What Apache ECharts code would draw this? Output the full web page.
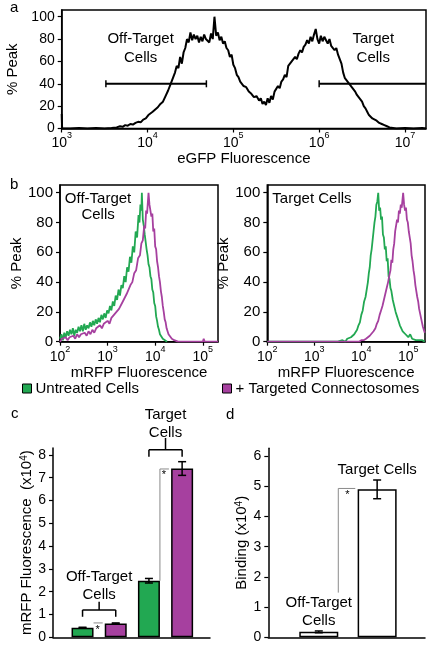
<!DOCTYPE html>
<html><head><meta charset="utf-8">
<script src="https://cdn.jsdelivr.net/npm/echarts@6/dist/echarts.min.js"></script>
<style>html,body{margin:0;padding:0;background:#fff}#c{width:435px;height:650px}</style>
</head><body><div id="c"></div>
<script>
const FONT = '"Liberation Sans", Arial, Helvetica, sans-serif';
const GREEN = '#22a852', MAGENTA = '#a6409f';

// ---- Panel a: eGFP histogram, [log10(eGFP), % Peak]
const egfpHist = [[3.00,13],[3.005,0],[3.1,0],[3.2,0.5],[3.3,0],[3.4,0.5],[3.5,0],[3.58,0.5],[3.64,1],[3.68,2],[3.71,1.5],[3.74,3],[3.77,2.5],[3.80,4],[3.83,3.5],[3.86,5],[3.89,6],[3.92,5.5],[3.95,8],[3.98,9],[4.01,12],[4.03,11],[4.06,15],[4.09,17],[4.12,19],[4.15,22],[4.18,24],[4.21,29],[4.24,34],[4.27,40],[4.30,46],[4.32,50],[4.34,56],[4.36,54],[4.38,64],[4.40,58],[4.42,68],[4.44,72],[4.46,80],[4.48,77],[4.50,86],[4.52,79],[4.54,84],[4.56,80],[4.58,83],[4.60,77],[4.62,82],[4.64,78],[4.66,84],[4.68,80],[4.70,81],[4.72,77],[4.74,85],[4.76,80],[4.78,100],[4.80,83],[4.82,86],[4.84,79],[4.86,82],[4.88,76],[4.90,78],[4.92,72],[4.94,70],[4.96,64],[4.98,66],[5.00,57],[5.02,54],[5.04,48],[5.06,46],[5.08,42],[5.10,43],[5.12,38],[5.15,37],[5.18,33],[5.21,31],[5.24,28],[5.27,29],[5.30,25],[5.32,27],[5.34,22],[5.36,24],[5.38,21],[5.40,27],[5.42,23],[5.44,29],[5.46,26],[5.48,33],[5.50,32],[5.52,38],[5.54,36],[5.56,42],[5.58,44],[5.60,48],[5.62,46],[5.64,56],[5.66,55],[5.68,60],[5.70,59],[5.72,64],[5.74,62],[5.76,67],[5.78,70],[5.80,68],[5.82,73],[5.84,75],[5.86,79],[5.88,76],[5.90,82],[5.92,78],[5.94,84],[5.96,89],[5.98,80],[6.00,76],[6.02,83],[6.04,78],[6.06,82],[6.08,79],[6.10,76],[6.12,80],[6.14,74],[6.16,75],[6.18,70],[6.20,72],[6.22,66],[6.24,67],[6.26,58],[6.28,50],[6.30,45],[6.32,44],[6.34,41],[6.36,40],[6.38,37],[6.40,35],[6.42,33],[6.44,30],[6.46,31],[6.48,26],[6.50,24],[6.52,20],[6.54,18],[6.56,15],[6.58,12],[6.60,11],[6.62,9],[6.64,8],[6.67,7],[6.70,5],[6.73,4],[6.76,3],[6.79,2],[6.82,1],[6.86,0.5],[6.9,0],[7.0,0.5],[7.1,0],[7.2,0.5],[7.245,0]];
const aXTicks = [3,4,5,6,7];
const aYTicks = [0,20,40,60,80,100];
const aGateOff = [3.515, 4.686];
const aGateOn = [6.0, 7.245];
const aGateLevel = 40;

// ---- Panel b: mRFP histograms, [log10(mRFP), % Peak]
const offUntreated = [[2.00,2],[2.03,5],[2.06,1],[2.09,6],[2.12,3],[2.15,7],[2.18,4],[2.21,8],[2.24,5],[2.27,9],[2.30,4],[2.33,8],[2.36,6],[2.39,10],[2.42,7],[2.45,11],[2.48,7],[2.51,12],[2.54,8],[2.57,11],[2.60,9],[2.63,13],[2.66,10],[2.69,14],[2.72,11],[2.75,15],[2.78,12],[2.81,16],[2.84,13],[2.87,18],[2.90,15],[2.93,19],[2.96,16],[2.99,21],[3.02,19],[3.05,24],[3.08,21],[3.11,27],[3.14,24],[3.17,31],[3.20,28],[3.23,35],[3.26,31],[3.29,38],[3.32,36],[3.35,44],[3.38,40],[3.41,50],[3.44,47],[3.47,57],[3.50,53],[3.53,64],[3.56,60],[3.59,74],[3.62,70],[3.65,85],[3.67,80],[3.69,92],[3.71,88],[3.72,100],[3.74,82],[3.76,78],[3.78,72],[3.80,67],[3.82,62],[3.84,58],[3.86,52],[3.88,50],[3.90,44],[3.92,42],[3.94,35],[3.96,33],[3.98,26],[4.00,24],[4.02,17],[4.04,14],[4.06,10],[4.08,8],[4.10,5],[4.13,4],[4.16,2],[4.20,1],[4.25,0]];
const offTreated = [[2.00,0],[2.04,2],[2.08,1],[2.12,3],[2.16,1],[2.20,3],[2.24,2],[2.28,4],[2.32,2],[2.36,5],[2.40,3],[2.44,5],[2.48,4],[2.52,6],[2.56,4],[2.60,7],[2.64,5],[2.68,8],[2.72,6],[2.76,9],[2.80,8],[2.84,11],[2.88,9],[2.92,12],[2.96,11],[3.00,14],[3.04,12],[3.08,16],[3.12,15],[3.16,19],[3.20,18],[3.24,22],[3.28,21],[3.32,27],[3.36,26],[3.40,32],[3.44,31],[3.48,38],[3.52,40],[3.56,46],[3.60,48],[3.64,56],[3.68,58],[3.71,66],[3.74,68],[3.77,78],[3.79,76],[3.81,88],[3.83,86],[3.86,100],[3.88,92],[3.90,93],[3.92,84],[3.94,86],[3.96,74],[3.98,76],[4.00,64],[4.02,62],[4.04,54],[4.06,50],[4.08,44],[4.10,40],[4.12,34],[4.14,30],[4.16,24],[4.18,20],[4.20,15],[4.22,13],[4.24,9],[4.26,7],[4.28,5],[4.31,4],[4.35,2],[4.40,1],[4.48,0],[4.9,0],[5.0,0],[5.02,2],[5.04,0],[5.32,0]];
const tgtUntreated = [[2.0,0],[3.0,0],[3.5,0],[3.60,1],[3.66,0],[3.70,2],[3.74,1],[3.78,3],[3.82,2],[3.85,5],[3.88,6],[3.91,8],[3.94,11],[3.97,13],[4.00,18],[4.03,21],[4.06,27],[4.09,30],[4.12,36],[4.14,40],[4.16,46],[4.18,50],[4.20,58],[4.22,62],[4.24,68],[4.26,74],[4.28,80],[4.30,84],[4.32,92],[4.34,94],[4.36,100],[4.38,88],[4.40,90],[4.42,82],[4.44,84],[4.46,72],[4.48,70],[4.50,62],[4.52,64],[4.54,54],[4.56,56],[4.58,44],[4.60,42],[4.62,36],[4.64,34],[4.67,28],[4.70,24],[4.73,20],[4.76,17],[4.79,14],[4.82,11],[4.85,10],[4.88,7],[4.91,8],[4.94,5],[4.97,6],[5.00,3],[5.04,5],[5.08,2],[5.12,3],[5.16,1],[5.20,2],[5.25,1],[5.30,1],[5.35,0]];
const tgtTreated = [[2.0,0],[3.5,0],[3.95,0],[4.00,1],[4.05,1],[4.10,2],[4.14,3],[4.18,4],[4.22,5],[4.26,7],[4.30,9],[4.33,12],[4.36,14],[4.39,18],[4.42,21],[4.45,24],[4.48,28],[4.51,32],[4.54,36],[4.57,40],[4.60,45],[4.62,48],[4.64,55],[4.66,53],[4.68,62],[4.70,66],[4.72,74],[4.74,78],[4.76,82],[4.78,80],[4.80,88],[4.82,86],[4.84,92],[4.86,90],[4.89,100],[4.91,92],[4.93,88],[4.95,90],[4.97,82],[4.99,80],[5.01,74],[5.03,70],[5.05,66],[5.07,58],[5.09,54],[5.11,48],[5.13,44],[5.15,38],[5.17,34],[5.19,30],[5.21,27],[5.23,22],[5.25,19],[5.27,16],[5.29,13],[5.31,10],[5.33,8],[5.35,6]];
const bXTicks = [2,3,4,5];
const bYTicks = [0,20,40,60,80,100];
const legendNames = ['Untreated Cells', '+ Targeted Connectosomes'];

// ---- Panel c: mRFP fluorescence bars (x10^4)
const cCategories = ['Off-Target Untreated','Off-Target + Connectosomes','Target Untreated','Target + Connectosomes'];
const cValues = [0.42, 0.61, 2.48, 7.4];
const cErrors = [0.02, 0.02, 0.1, 0.3];
const cYTicks = [0,1,2,3,4,5,6,7,8];

// ---- Panel d: binding bars (x10^4)
const dCategories = ['Off-Target Cells','Target Cells'];
const dValues = [0.18, 4.9];
const dErrors = [0.03, 0.31];
const dYTicks = [0,1,2,3,4,5,6];

const chart = echarts.init(document.getElementById('c'), null, {renderer:'canvas'});

const expRich = {
  b:{fontSize:14,fontFamily:FONT,color:'#000',lineHeight:19,verticalAlign:'bottom'},
  s:{fontSize:9,fontFamily:FONT,color:'#000',verticalAlign:'top'}
};
function expLabel(v){ return '{b|10}{s|' + v + '}'; }
const nameStyle = {fontFamily:FONT,fontSize:15,color:'#000'};
const axisLineStyle = {color:'#000', width:1.5};

function logXAxis(gi, min, max, ticks, name, gap){
  return {type:'value', gridIndex:gi, min:min, max:max, interval:1,
    axisLine:{show:true, onZero:false, lineStyle:axisLineStyle},
    axisTick:{show:true, length:4, customValues:ticks, lineStyle:{color:'#000',width:1.2}},
    axisLabel:{customValues:ticks, formatter:expLabel, rich:expRich, margin:3},
    splitLine:{show:false},
    name:name, nameLocation:'middle', nameGap:gap, nameTextStyle:nameStyle};
}
function linYAxis(gi, max, ticks, interval, name, gap, fs){
  return {type:'value', gridIndex:gi, min:0, max:max, interval:interval,
    axisLine:{show:true, onZero:false, lineStyle:axisLineStyle},
    axisTick:{show:true, length:4, customValues:ticks, lineStyle:{color:'#000',width:1.2}},
    axisLabel:{customValues:ticks, fontFamily:FONT, fontSize:fs, color:'#000', margin:7},
    splitLine:{show:false},
    name:name, nameLocation:'middle', nameRotate:90, nameGap:gap, nameTextStyle:nameStyle};
}
function barXAxis(gi, min, max){
  return {type:'value', gridIndex:gi, min:min, max:max,
    axisLine:{show:true, onZero:false, lineStyle:axisLineStyle},
    axisTick:{show:false}, axisLabel:{show:false}, splitLine:{show:false}};
}

function L(p1,p2,color,w){ return {type:'line', shape:{x1:p1[0],y1:p1[1],x2:p2[0],y2:p2[1]}, style:{stroke:color||'#000', lineWidth:w||1.5}}; }
function T(p,text,size){ return {type:'text', x:p[0], y:p[1], style:{text:text, fontSize:size||15, fontFamily:FONT, fill:'#000', align:'center', verticalAlign:'middle'}}; }
function off(p,dx,dy){ return [p[0]+dx, p[1]+dy]; }
function annot(ai, anchor, build){
  return {type:'custom', xAxisIndex:ai, yAxisIndex:ai, data:[anchor], silent:true, clip:false, z:10,
    renderItem:function(params, api){ return {type:'group', children: build(api)}; }};
}
function histLine(ai, name, data, color){
  return {type:'line', name:name, xAxisIndex:ai, yAxisIndex:ai, data:data, showSymbol:false, symbol:'none',
    itemStyle:{color:color}, lineStyle:{color:color, width:1.8}, z:3};
}
function bars(ai, values, colors, width){
  return {type:'bar', xAxisIndex:ai, yAxisIndex:ai, barWidth:width,
    data: values.map((v,i)=>({value:[i,v], itemStyle:{color:colors[i], borderColor:'#000', borderWidth:1.5}})), z:2};
}
function errBars(ai, values, errs){
  return {type:'custom', xAxisIndex:ai, yAxisIndex:ai, silent:true, clip:false, z:5,
    data: values.map((v,i)=>[i,v,errs[i]]),
    renderItem:function(params, api){
      const x=api.value(0), v=api.value(1), e=api.value(2);
      const hi=api.coord([x,v+e]), lo=api.coord([x,v-e]);
      return {type:'group', children:[L(hi,lo,'#000',1.5), L(off(hi,-4,0),off(hi,4,0),'#000',1.5), L(off(lo,-4,0),off(lo,4,0),'#000',1.5)]};
    }};
}

const cColors = [GREEN, MAGENTA, GREEN, MAGENTA];
const dColors = ['#fff', '#fff'];

const option = {
  animation:false,
  backgroundColor:'#fff',
  textStyle:{fontFamily:FONT},
  graphic:[
    {type:'text', left:10, top:0, style:{text:'a', fontSize:15, fontFamily:FONT, fill:'#000'}},
    {type:'text', left:10, top:177, style:{text:'b', fontSize:15, fontFamily:FONT, fill:'#000'}},
    {type:'text', left:11, top:406, style:{text:'c', fontSize:15, fontFamily:FONT, fill:'#000'}},
    {type:'text', left:226, top:407, style:{text:'d', fontSize:15, fontFamily:FONT, fill:'#000'}}
  ],
  legend:[
    {data:[legendNames[0]], left:17, top:376, icon:'rect', itemWidth:9, itemHeight:9, itemGap:0, selectedMode:false,
     itemStyle:{borderColor:'#000', borderWidth:1}, textStyle:{fontFamily:FONT, fontSize:15, color:'#000', padding:[0,0,0,-1]}},
    {data:[legendNames[1]], left:217, top:376, icon:'rect', itemWidth:9, itemHeight:9, itemGap:0, selectedMode:false,
     itemStyle:{borderColor:'#000', borderWidth:1}, textStyle:{fontFamily:FONT, fontSize:15, color:'#000', padding:[0,0,0,-1]}}
  ],
  grid:[
    {left:61.7, top:10, width:364.3, height:118.5, show:true, borderColor:'#000', borderWidth:1.5, containLabel:false, outerBoundsMode:'none'},
    {left:60, top:185, width:158, height:156.7, show:true, borderColor:'#000', borderWidth:1.5, containLabel:false, outerBoundsMode:'none'},
    {left:267.3, top:185, width:157.7, height:156.7, show:true, borderColor:'#000', borderWidth:1.5, containLabel:false, outerBoundsMode:'none'},
    {left:53, top:448, width:157, height:189.3, containLabel:false, outerBoundsMode:'none'},
    {left:268.3, top:448.3, width:156.7, height:189, containLabel:false, outerBoundsMode:'none'}
  ],
  xAxis:[
    logXAxis(0, 3, 7.245, aXTicks, 'eGFP Fluorescence', 21),
    logXAxis(1, 2, 5.32, bXTicks, 'mRFP Fluorescence', 24),
    logXAxis(2, 2, 5.355, bXTicks, 'mRFP Fluorescence', 24),
    barXAxis(3, -0.89, 3.84),
    barXAxis(4, -0.865, 1.82)
  ],
  yAxis:[
    linYAxis(0, 106, aYTicks, 20, '% Peak', 25, 14),
    linYAxis(1, 105.2, bYTicks, 20, '% Peak', 25, 15),
    linYAxis(2, 105.2, bYTicks, 20, '% Peak', 25, 15),
    Object.assign(linYAxis(3, 8.3, cYTicks, 1, '{n|mRFP Fluorescence  (x10}{s|4}{n|)}', 17, 14),
      {nameTextStyle:{rich:{n:{fontFamily:FONT,fontSize:15,color:'#000'}, s:{fontFamily:FONT,fontSize:10,color:'#000',verticalAlign:'top'}}}}),
    Object.assign(linYAxis(4, 6.26, dYTicks, 1, '{n|Binding (x10}{s|4}{n|)}', 13, 14),
      {nameTextStyle:{rich:{n:{fontFamily:FONT,fontSize:15,color:'#000'}, s:{fontFamily:FONT,fontSize:10,color:'#000',verticalAlign:'top'}}}})
  ],
  series:[
    {type:'line', name:'eGFP', xAxisIndex:0, yAxisIndex:0, data:egfpHist, showSymbol:false, symbol:'none',
     lineStyle:{color:'#000', width:2}, itemStyle:{color:'#000'}},
    annot(0, [4,0], function(api){
      const g1=api.coord([aGateOff[0],aGateLevel]), g2=api.coord([aGateOff[1],aGateLevel]);
      const h1=api.coord([aGateOn[0],aGateLevel]), h2=api.coord([aGateOn[1],aGateLevel]);
      return [
        L(g1,g2,'#000',2), L(off(g1,0,-3.5),off(g1,0,3.5),'#000',1.5), L(off(g2,0,-3.5),off(g2,0,3.5),'#000',1.5),
        L(h1,h2,'#000',2), L(off(h1,0,-3.5),off(h1,0,3.5),'#000',1.5),
        T(api.coord([3.92,80]),'Off-Target'), T(api.coord([3.92,63.5]),'Cells'),
        T(api.coord([6.63,80]),'Target'), T(api.coord([6.63,63.5]),'Cells')
      ];
    }),
    histLine(1, legendNames[0], offUntreated, GREEN),
    histLine(1, legendNames[1], offTreated, MAGENTA),
    histLine(2, legendNames[0], tgtUntreated, GREEN),
    histLine(2, legendNames[1], tgtTreated, MAGENTA),
    annot(1, [3,0], function(api){
      return [T(api.coord([2.80,96.2]),'Off-Target'), T(api.coord([2.80,85]),'Cells')];
    }),
    annot(2, [3,0], function(api){
      return [T(api.coord([2.95,96.2]),'Target Cells')];
    }),
    bars(3, cValues, cColors, 22),
    errBars(3, cValues, cErrors),
    annot(3, [0,0], function(api){
      const a0=api.coord([0,1.2]), a1=api.coord([1,1.2]);
      const b0=api.coord([2,8.22]), b1=api.coord([3,8.22]);
      const s0=api.coord([2,cValues[2]]), s1=api.coord([2,7.38]);
      const t0=api.coord([0,0.63]), t1=api.coord([1,0.63]);
      return [
        L(a0,a1), L(a0,api.coord([0,0.9])), L(a1,api.coord([1,0.9])), L(api.coord([0.5,1.2]),api.coord([0.5,1.56])),
        T(api.coord([0.5,2.64]),'Off-Target'), T(api.coord([0.5,1.86]),'Cells'),
        L(b0,b1), L(b0,api.coord([2,7.92])), L(b1,api.coord([3,7.92])), L(api.coord([2.5,8.22]),api.coord([2.5,8.74])),
        T(api.coord([2.5,9.75]),'Target'), T(api.coord([2.5,8.96]),'Cells'),
        L(off(s0,11,0),off(s1,11,0),'#8a8a8a',1), L(off(s1,11,0),off(s1,20,0),'#8a8a8a',1),
        T(off(s1,15,6),'*',11),
        L(off(t0,11,0),off(t1,-13,0),'#8a8a8a',1),
        T(off(api.coord([0.5,0.42]),-1.5,2),'*',11)
      ];
    }),
    bars(4, dValues, dColors, 39),
    errBars(4, dValues, dErrors),
    annot(4, [0,0], function(api){
      const s0=api.coord([0,1.48]), s1=api.coord([0,4.93]);
      return [
        T(api.coord([1,5.54]),'Target Cells'),
        T(api.coord([0,1.14]),'Off-Target'), T(api.coord([0,0.54]),'Cells'),
        L(off(s0,19.5,0),off(s1,19.5,0),'#8a8a8a',1), L(off(s1,19.5,0),off(s1,36.5,0),'#8a8a8a',1),
        T(off(s1,28.5,7),'*',11)
      ];
    })
  ]
};
chart.setOption(option);
</script></body></html>
